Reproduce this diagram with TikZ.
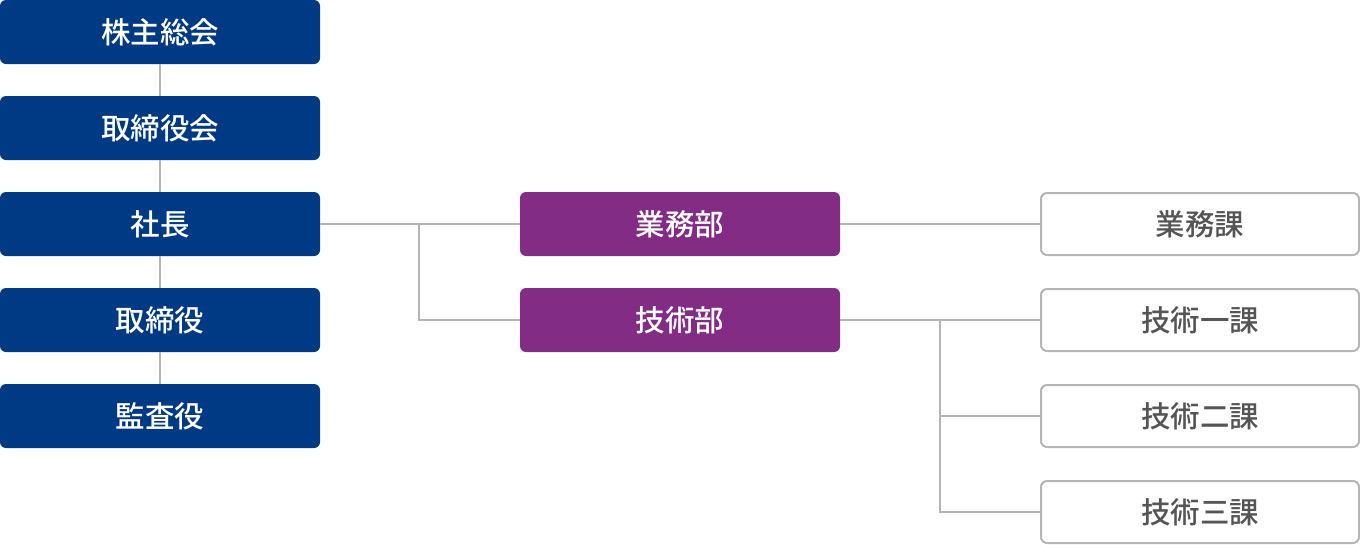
\documentclass[tikz,border=0pt]{standalone}
\usepackage{fontspec}
\newfontfamily\jpfont{Noto Sans CJK JP}[UprightFont=* Medium]
\usepackage{tikz}

\definecolor{navy}{HTML}{003A84}
\definecolor{plum}{HTML}{822C86}
\definecolor{linegray}{HTML}{B4B4B4}
\definecolor{textgray}{HTML}{555555}

\tikzset{
  board/.style={fill=navy, text=white, rounded corners=6pt, minimum width=320pt,
    minimum height=64pt, inner sep=0pt, outer sep=0pt, font=\jpfont\fontsize{29.5}{31}\selectfont},
  dept/.style={board, fill=plum},
  sect/.style={draw=linegray, line width=2pt, fill=white, text=textgray, rounded corners=6pt,
    minimum width=318pt, minimum height=62pt, inner sep=0pt, outer sep=1pt,
    font=\jpfont\fontsize{29.5}{31}\selectfont},
  link/.style={draw=linegray, line width=2pt}
}

\begin{document}
\begin{tikzpicture}[x=1pt, y=-1pt]
      \useasboundingbox (0,0) rectangle (1360,544);

      % Left column
      \node[board] (soukai) at (160,32) {株主総会};
      \node[board] (torikai) at (160,128) {取締役会};
      \node[board] (shacho) at (160,224) {社長};
      \node[board] (torishi) at (160,320) {取締役};
      \node[board] (kansa) at (160,416) {監査役};

      \draw[link] (soukai.south) -- (torikai.north);
      \draw[link] (torikai.south) -- (shacho.north);
      \draw[link] (shacho.south) -- (torishi.north);
      \draw[link] (torishi.south) -- (kansa.north);

      % Departments
      \node[dept] (gyomubu) at (680,224) {業務部};
      \node[dept] (gijutsubu) at (680,320) {技術部};

      \coordinate (split) at (419,224);
      \draw[link] (shacho.east) -- (gyomubu.west);
      \draw[link] (split) -- (split |- gijutsubu.west) -- (gijutsubu.west);

      % Sections
      \node[sect] (gyomuka) at (1200,224) {業務課};
      \node[sect] (ka1) at (1200,320) {技術一課};
      \node[sect] (ka2) at (1200,416) {技術二課};
      \node[sect] (ka3) at (1200,512) {技術三課};

      \coordinate (fork) at (940,320);
      \draw[link] (gyomubu.east) -- (gyomuka.west);
      \draw[link] (gijutsubu.east) -- (ka1.west);
      \draw[link] (fork) -- (fork |- ka3.west) -- (ka3.west);
      \draw[link] (fork |- ka2.west) -- (ka2.west);
\end{tikzpicture}
\end{document}
